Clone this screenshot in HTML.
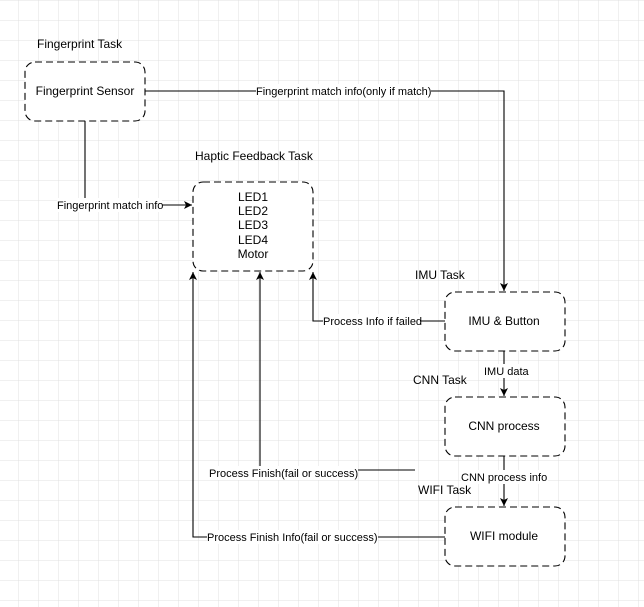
<!DOCTYPE html>
<html><head><meta charset="utf-8"><style>
html,body{margin:0;padding:0;background:#fff;}
svg{display:block;font-family:"Liberation Sans",Arial,sans-serif;}
</style></head><body>
<svg width="644" height="607" viewBox="0 0 644 607" xmlns="http://www.w3.org/2000/svg">
<defs>
<pattern id="g" width="20" height="20" patternUnits="userSpaceOnUse" x="-1" y="1">
<path d="M20 0V20M0 20H20" fill="none" stroke="#e0e0e0" stroke-width="1"/>
</pattern>
<marker id="a" markerWidth="10" markerHeight="10" refX="9" refY="5" orient="auto" markerUnits="userSpaceOnUse">
<path d="M1 1L9 5L1 9L3 5Z" fill="#000"/>
</marker>
</defs>
<rect width="644" height="607" fill="url(#g)"/>
<g fill="none" stroke="#000" stroke-width="1.1">
<path d="M145 91H504V291" marker-end="url(#a)"/>
<path d="M85 121V205H192" marker-end="url(#a)"/>
<path d="M445 321H313V272" marker-end="url(#a)"/>
<path d="M504 351V396" marker-end="url(#a)"/>
<path d="M504 456V506" marker-end="url(#a)"/>
<path d="M415 470H260V272" marker-end="url(#a)"/>
<path d="M445 537H193V272" marker-end="url(#a)"/>
</g>
<g fill="#fff" stroke="#000" stroke-width="1.1" stroke-dasharray="7 4">
<rect x="25" y="62" width="120" height="59" rx="10"/>
<rect x="193" y="182" width="120" height="89" rx="10"/>
<rect x="445" y="292" width="120" height="59" rx="10"/>
<rect x="445" y="397" width="120" height="59" rx="10"/>
<rect x="445" y="507" width="120" height="59" rx="10"/>
</g>
<g font-size="12" fill="#000">
<text x="37" y="48">Fingerprint Task</text>
<text x="85" y="95" text-anchor="middle">Fingerprint Sensor</text>
<text x="195" y="160">Haptic Feedback Task</text>
<g text-anchor="middle">
<text x="253" y="201">LED1</text>
<text x="253" y="215">LED2</text>
<text x="253" y="229">LED3</text>
<text x="253" y="244">LED4</text>
<text x="253" y="258">Motor</text>
<text x="504" y="325">IMU &amp; Button</text>
<text x="504" y="430">CNN process</text>
<text x="504" y="540">WIFI module</text>
</g>
<text x="415" y="279">IMU Task</text>
<text x="413" y="384">CNN Task</text>
<text x="418" y="494">WIFI Task</text>
</g>
<g font-size="11" fill="#000">
<rect x="256" y="84" width="175" height="14" fill="#fff"/>
<text x="256" y="95">Fingerprint match info(only if match)</text>
<rect x="57" y="198" width="105" height="14" fill="#fff"/>
<text x="57" y="209">Fingerprint match info</text>
<rect x="323" y="314" width="97" height="14" fill="#fff"/>
<text x="323" y="325">Process Info if failed</text>
<rect x="484" y="364" width="44" height="14" fill="#fff"/>
<text x="484" y="375">IMU data</text>
<rect x="461" y="470" width="87" height="14" fill="#fff"/>
<text x="461" y="481">CNN process info</text>
<rect x="209" y="466" width="149" height="14" fill="#fff"/>
<text x="209" y="477">Process Finish(fail or success)</text>
<rect x="207" y="530" width="171" height="14" fill="#fff"/>
<text x="207" y="541">Process Finish Info(fail or success)</text>
</g>
</svg>
</body></html>
